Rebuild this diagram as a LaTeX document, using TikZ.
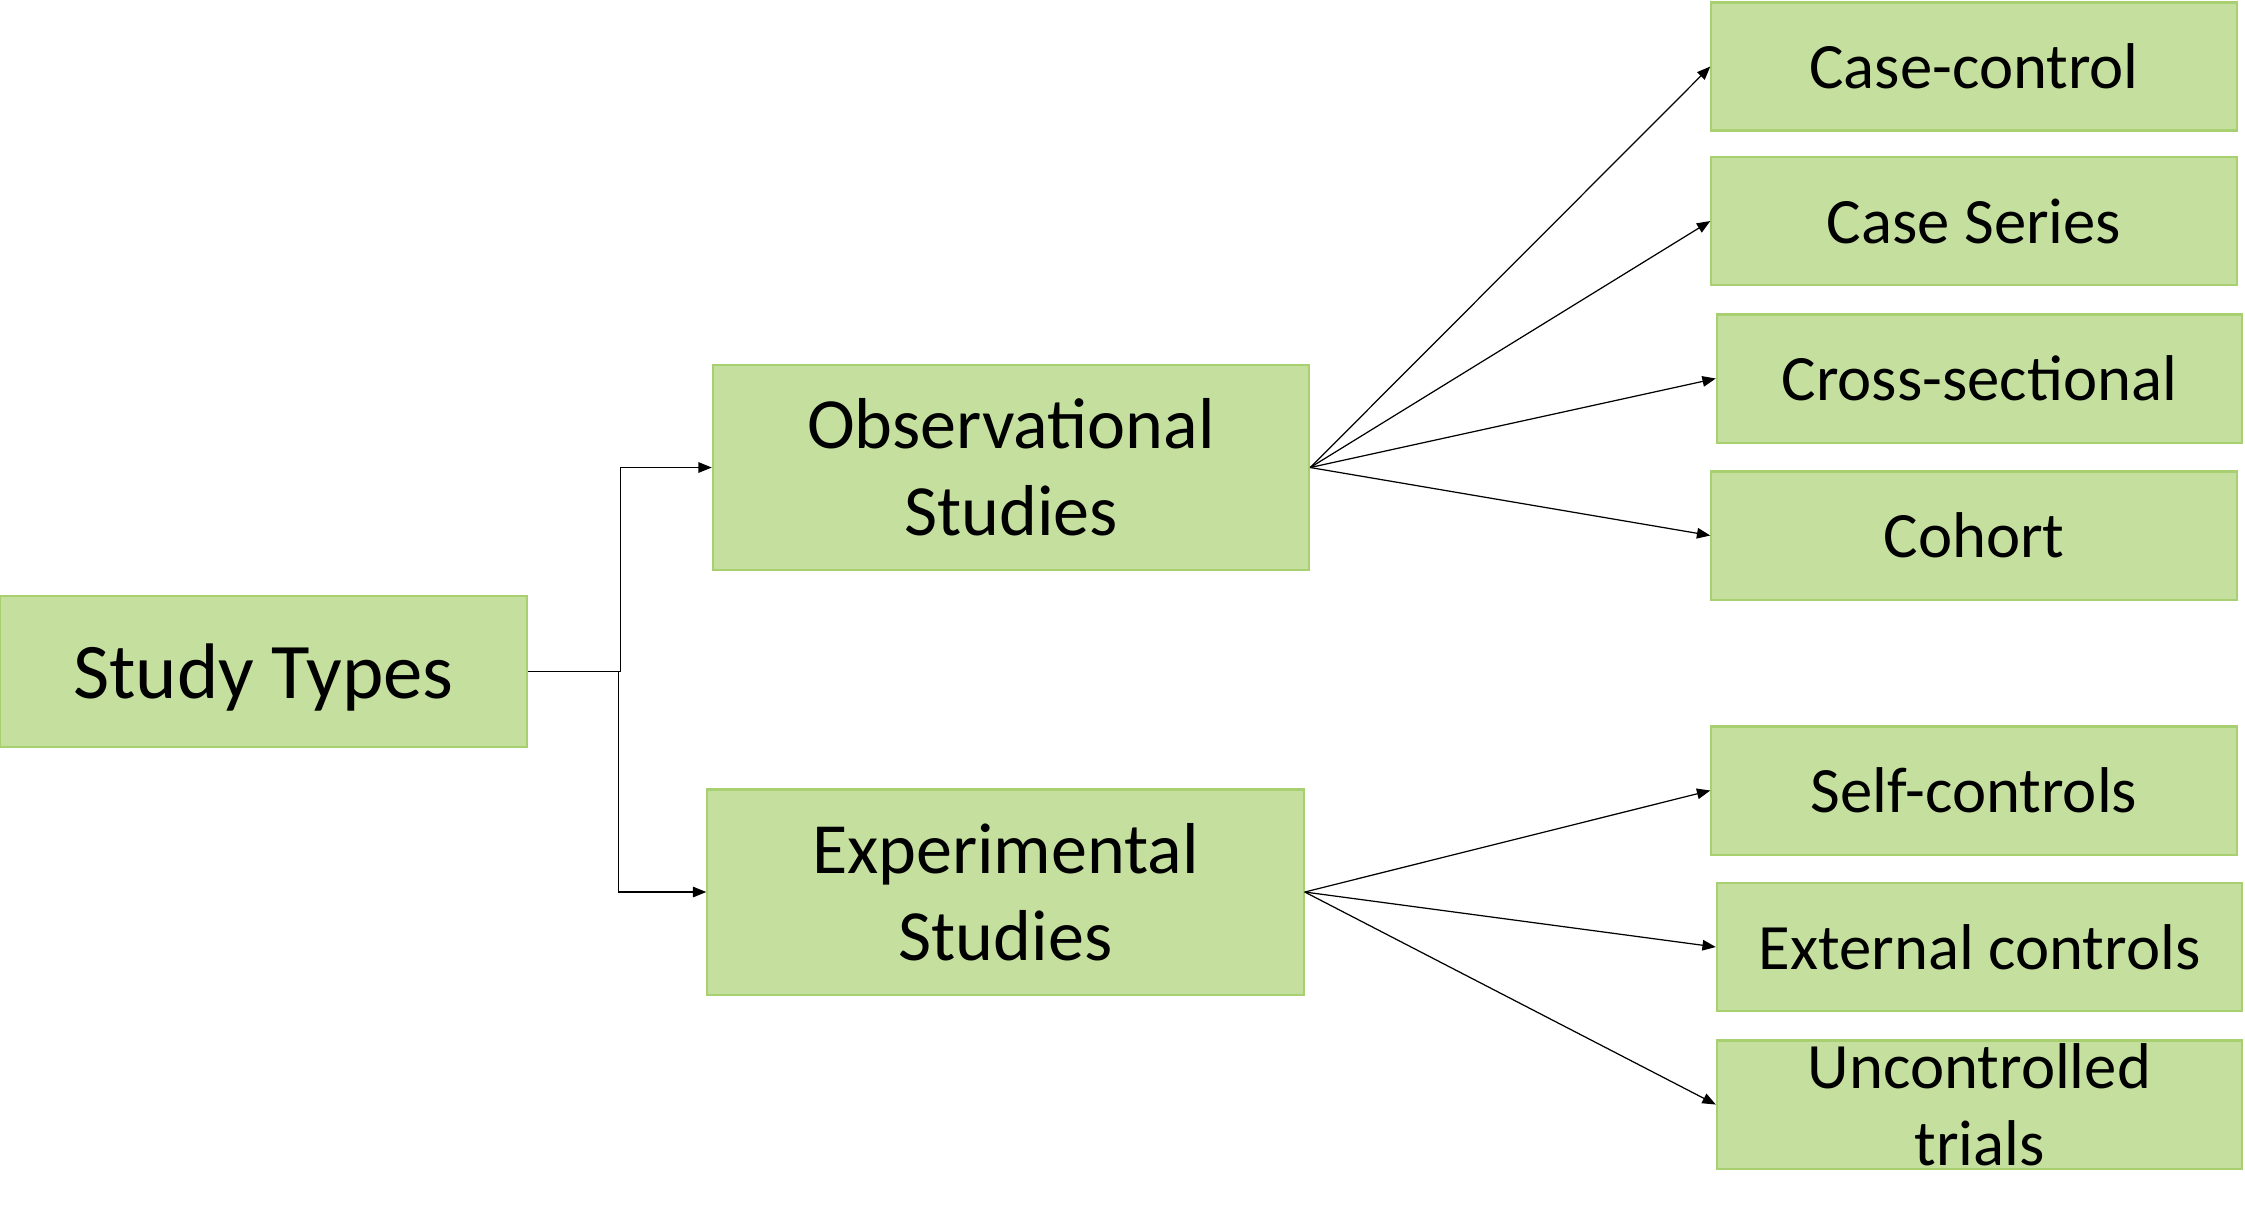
\documentclass[tikz,border=0pt]{standalone}
\usepackage{fontspec}
\setmainfont{Carlito}
\usetikzlibrary{arrows.meta}
\definecolor{boxfill}{RGB}{197,224,158}
\definecolor{boxline}{RGB}{168,208,112}

\begin{document}
\begin{tikzpicture}[x=0.01cm,y=-0.01cm,
        stbox/.style={draw=boxline,fill=boxfill,line width=0.6pt,inner sep=0pt,align=center},
        mainbox/.style={stbox,minimum width=5.27cm,minimum height=1.51cm,text depth=0pt,font=\fontsize{22.4}{27}\selectfont},
        midbox/.style={stbox,minimum width=5.96cm,minimum height=2.05cm,font=\fontsize{20.5}{24.7}\selectfont},
        leafbox/.style={stbox,minimum width=5.25cm,minimum height=1.28cm,font=\fontsize{18.4}{21.9}\selectfont},
        conn/.style={-{Triangle[length=3.8pt,width=3pt]},line width=0.35pt}]
        \useasboundingbox (0,0) rectangle (2245,1223);
        % root and the two families
        \node[mainbox] (types) at (263.5,671.5) {Study Types};
        \node[midbox] (obs) at (1011,467.5) {Observational\\Studies};
        \node[midbox] (exp) at (1005.5,892) {Experimental\\Studies};
        % observational designs
        \node[leafbox] (cc) at (1974,66.5) {Case-control};
        \node[leafbox] (cs) at (1974,221) {Case Series};
        \node[leafbox] (xs) at (1979.5,378.5) {Cross-sectional};
        \node[leafbox] (coh) at (1974,535.5) {Cohort};
        % experimental designs
        \node[leafbox] (selfc) at (1974,790.5) {Self-controls};
        \node[leafbox] (extc) at (1979.5,947) {External controls};
        \node[leafbox] (unc) at (1979.5,1104.5) {Uncontrolled\\trials};
        \draw[conn] (types.east) -- ++(92,0) |- (obs.west);
        \draw[conn] (types.east) -- ++(90,0) |- (exp.west);
        \foreach \t in {cc,cs,xs,coh} \draw[conn] (obs.east) -- (\t.west);
        \foreach \t in {selfc,extc,unc} \draw[conn] (exp.east) -- (\t.west);
\end{tikzpicture}
\end{document}
